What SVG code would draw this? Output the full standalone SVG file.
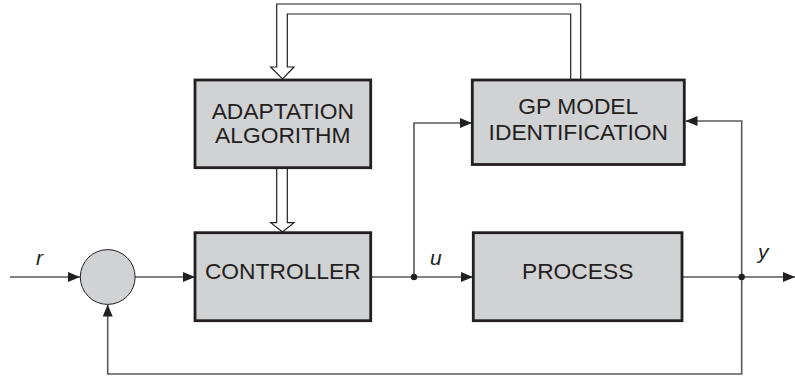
<svg xmlns="http://www.w3.org/2000/svg" width="795" height="379" viewBox="0 0 795 379">
<defs>
<marker id="ah" markerWidth="12" markerHeight="10" refX="12" refY="5" orient="auto" markerUnits="userSpaceOnUse">
<path d="M0,0 L12,5 L0,10 Z" fill="#231f20"/>
</marker>
<style>
.box{fill:#d1d2d4;stroke:#231f20;stroke-width:2.8}
.lbl{font-family:"Liberation Sans",Arial,sans-serif;font-size:22.8px;fill:#231f20;text-anchor:middle}
.sig{font-family:"Liberation Sans",Arial,sans-serif;font-size:21px;font-style:italic;fill:#231f20}
.ln{fill:none;stroke:#58595b;stroke-width:1.6}
.dbl{fill:none;stroke:#231f20;stroke-width:1.2}
</style>
</defs>
<rect width="795" height="379" fill="#ffffff"/>
<g id="connectors">
<path class="ln" d="M10,277 H80" marker-end="url(#ah)"/>
<path class="ln" d="M135,277 H195" marker-end="url(#ah)"/>
<path class="ln" d="M370.7,277 H473" marker-end="url(#ah)"/>
<path class="ln" d="M414,277 V123 H472" marker-end="url(#ah)"/>
<path class="ln" d="M682,277 H795" marker-end="url(#ah)"/>
<path class="ln" d="M741.7,277 V121 H685.5" marker-end="url(#ah)"/>
<path class="ln" d="M741.7,277 V374 H107.7 V304.5" marker-end="url(#ah)"/>
<circle cx="414" cy="277" r="3.2" fill="#231f20"/>
<circle cx="741.7" cy="277" r="3.2" fill="#231f20"/>
<path class="dbl" d="M276.7,168 V222.7 H270.7 L282.5,232 L294,222.7 H287.3 V168"/>
<path class="dbl" d="M580.7,80 V4 H276.7 V67 H270.7 L282.5,79 L294,67 H287.3 V14 H570.7 V80"/>
</g>
<g id="sum">
<circle cx="107.7" cy="277" r="27.4" fill="#d1d2d4" stroke="#231f20" stroke-width="1"/>
</g>
<g id="adaptation">
<rect class="box" x="195" y="80" width="175.7" height="87.7"/>
<text class="lbl" x="282.8" y="119.3">ADAPTATION</text>
<text class="lbl" x="282.8" y="143.3">ALGORITHM</text>
</g>
<g id="gpmodel">
<rect class="box" x="472.3" y="80" width="212" height="84.5"/>
<text class="lbl" x="578.3" y="114.3">GP MODEL</text>
<text class="lbl" x="578.3" y="140">IDENTIFICATION</text>
</g>
<g id="controller">
<rect class="box" x="195" y="232.7" width="175.7" height="88"/>
<text class="lbl" x="282.8" y="279.3">CONTROLLER</text>
</g>
<g id="process">
<rect class="box" x="473.3" y="232.7" width="208.7" height="88"/>
<text class="lbl" x="577.7" y="279.3">PROCESS</text>
</g>
<g id="labels">
<text class="sig" x="36" y="265">r</text>
<text class="sig" x="430" y="265">u</text>
<text class="sig" x="758" y="259">y</text>
</g>
</svg>
